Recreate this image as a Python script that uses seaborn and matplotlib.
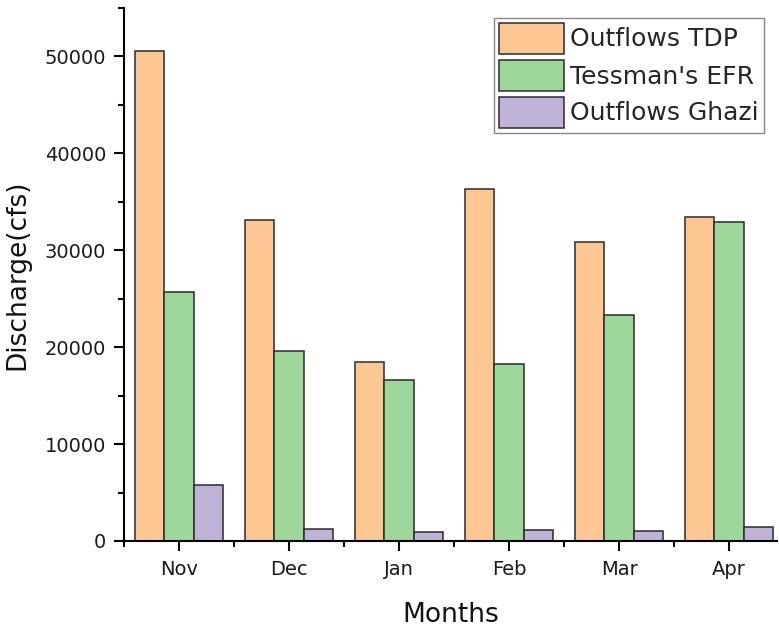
import matplotlib
matplotlib.use("Agg")
import matplotlib.pyplot as plt
from matplotlib.ticker import MultipleLocator, FixedLocator
import seaborn as sns
import pandas as pd

months = ["Nov", "Dec", "Jan", "Feb", "Mar", "Apr"]
series_names = ["Outflows TDP", "Tessman's EFR", "Outflows Ghazi"]
outflows_tdp = [50550, 33100, 18420, 36300, 30860, 33440]
tessman_efr = [25650, 19580, 16600, 18250, 23350, 32950]
outflows_ghazi = [5800, 1280, 900, 1110, 1080, 1430]
colors = ["#FCC793", "#9ED79A", "#C0B1D7"]

df = pd.DataFrame({
    "Month": months * 3,
    "Series": [s for s in series_names for _ in months],
    "Discharge": outflows_tdp + tessman_efr + outflows_ghazi,
})

sns.set_theme(style="ticks")
plt.rcParams["font.family"] = ["DejaVu Sans"]

fig = plt.figure(figsize=(7.79, 6.29), dpi=100)
ax = fig.add_axes([124 / 779, 88 / 629, (777 - 124) / 779, 533 / 629])

sns.barplot(data=df, x="Month", y="Discharge", hue="Series", order=months,
            hue_order=series_names, palette=colors, width=0.8,
            edgecolor="#2a2a2a", linewidth=1.1, saturation=1, ax=ax,
            errorbar=None)

ax.set_xlim(-0.5, 5.436)
ax.set_ylim(0, 55000)
ax.yaxis.set_major_locator(MultipleLocator(10000))
ax.yaxis.set_minor_locator(MultipleLocator(5000))
ax.xaxis.set_minor_locator(FixedLocator([i - 0.5 for i in range(len(months) + 1)]))

for side in ("top", "right"):
    ax.spines[side].set_visible(False)
for side in ("left", "bottom"):
    ax.spines[side].set_linewidth(1.5)
    ax.spines[side].set_color("black")

ax.tick_params(axis="both", which="major", direction="out", length=7, width=1.5,
               labelsize=14, colors="black", labelcolor="#1a1a1a")
ax.tick_params(axis="both", which="minor", direction="out", length=4, width=1.5,
               colors="black")
ax.tick_params(axis="y", which="major", pad=6)
ax.tick_params(axis="x", which="major", pad=7)

ax.set_xlabel("Months", fontsize=19, labelpad=16, color="#111111")
ax.set_ylabel("Discharge(cfs)", fontsize=19, labelpad=10, color="#111111")

handles, labels = ax.get_legend_handles_labels()
ax.legend(handles, labels, loc="upper right",
          bbox_to_anchor=(764 / 779, 1 - 18 / 629), bbox_transform=fig.transFigure,
          fontsize=18, frameon=True, fancybox=False, edgecolor="#888888",
          framealpha=1, handlelength=2.6, handleheight=1.5, labelspacing=0.26,
          handletextpad=0.25, borderpad=0.2, borderaxespad=0)
ax.get_legend().get_frame().set_linewidth(1.0)

fig.savefig("out.png", dpi=100)
